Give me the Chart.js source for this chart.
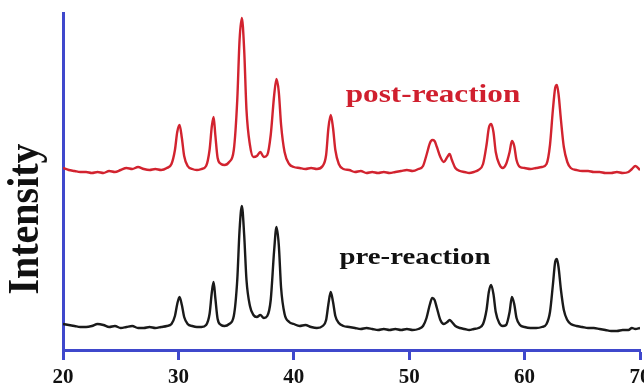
<!DOCTYPE html>
<html>
<head>
<meta charset="utf-8">
<script src="https://cdn.jsdelivr.net/npm/chart.js@4"></script>
<style>
  html, body { margin: 0; padding: 0; background: #fff; }
  #xrdChart { display: block; }
</style>
</head>
<body>
<canvas id="xrdChart" width="644" height="384"></canvas>
<script>
// 2-theta positions (deg), shared by both patterns
const twoTheta = [
  20, 20.5, 21, 21.5, 22, 22.5, 23, 23.5, 24, 24.5, 25, 25.5, 26, 26.5, 27, 27.5, 28, 28.5, 29,
  29.4, 29.7, 29.9, 30.1, 30.3, 30.5, 30.8, 31.2, 31.6, 32, 32.4, 32.7, 32.9, 33.05, 33.2, 33.4, 33.7, 34, 34.4, 34.8,
  35.1, 35.3, 35.5, 35.7, 35.9, 36.2, 36.5, 36.8, 37.1, 37.4, 37.7, 38.0, 38.3, 38.5, 38.7, 38.9, 39.2, 39.6,
  40, 40.5, 41, 41.5, 42, 42.5, 42.8, 43.0, 43.2, 43.4, 43.6, 43.9, 44.3, 44.8,
  45.3, 45.8, 46.3, 46.8, 47.3, 47.8, 48.3, 48.8, 49.3, 49.8, 50.3, 50.8,
  51.2, 51.5, 51.8, 52.0, 52.2, 52.4, 52.7, 53.0, 53.3, 53.5, 53.7, 54.0, 54.4, 54.8, 55.2, 55.6, 56.0,
  56.4, 56.7, 56.9, 57.1, 57.3, 57.5, 57.8, 58.1, 58.4, 58.7, 58.9, 59.1, 59.3, 59.6, 60.0, 60.5, 61.0, 61.5,
  61.9, 62.2, 62.45, 62.65, 62.8, 62.95, 63.15, 63.4, 63.7, 64.0, 64.5,
  65, 65.5, 66, 66.5, 67, 67.5, 68, 68.5, 69, 69.3, 69.6, 70,
];

// intensity (a.u.), pre-reaction pattern
const preReaction = [
  26, 25, 24, 23, 23, 24, 26, 25, 23, 24, 22, 23, 24, 22, 22, 23, 22, 23, 24,
  26, 34, 46, 53, 45, 33, 26, 24, 23, 23, 25, 36, 58, 68, 52, 31, 25, 24, 26, 34,
  70, 120, 144, 115, 70, 44, 35, 33, 35, 32, 34, 50, 100, 123, 105, 62, 36, 28,
  26, 24, 25, 23, 22, 24, 30, 46, 58, 48, 34, 27, 24, 23,
  22, 21, 22, 21, 20, 21, 20, 21, 20, 21, 20, 21,
  24, 32, 46, 52, 50, 42, 30, 26, 28, 30, 28, 24, 22, 21, 20, 21, 22,
  26, 40, 58, 65, 56, 38, 27, 24, 25, 38, 53, 46, 32, 25, 23, 22, 22, 23,
  26, 38, 65, 88, 91, 82, 60, 40, 30, 26, 24,
  23, 22, 22, 21, 20, 19, 19, 20, 20, 22, 21, 22,
];

// intensity (a.u.), post-reaction pattern (stacked above)
const postReaction = [
  182, 180, 179, 178, 178, 177, 178, 177, 179, 178, 180, 182, 181, 183, 181, 180, 181, 180, 182,
  186, 200, 218, 225, 212, 194, 184, 181, 180, 181, 184, 200, 224, 233, 215, 192, 186, 185, 188, 200,
  250, 310, 332, 300, 240, 205, 193, 194, 198, 193, 195, 215, 255, 271, 258, 225, 198, 186,
  183, 182, 181, 182, 181, 184, 195, 222, 235, 222, 200, 186, 181, 180,
  178, 179, 177, 178, 177, 178, 177, 178, 179, 180, 179, 181,
  184, 195, 207, 210, 209, 203, 193, 188, 193, 196, 190, 182, 179, 178, 177, 178, 180,
  186, 205, 222, 226, 218, 198, 186, 182, 186, 198, 209, 204, 190, 183, 182, 181, 182, 183,
  186, 205, 240, 262, 265, 255, 230, 203, 188, 182, 180,
  179, 179, 178, 178, 177, 177, 178, 177, 178, 181, 184, 180,
];

const axisBlue = "#3f48cc";
const serif = "'Liberation Serif', 'Times New Roman', serif";

const toPoints = (ys) => twoTheta.map((x, i) => ({ x: x, y: ys[i] }));

// text labels drawn on top of the plot
const labelPlugin = {
  id: "xrdLabels",
  afterDraw(chart) {
    const ctx = chart.ctx;
    ctx.save();
    ctx.textAlign = "center";
    ctx.textBaseline = "alphabetic";

    ctx.fillStyle = "#d01f2e";
    ctx.font = "bold 26px " + serif;
    ctx.save();
    ctx.translate(433, 102);
    ctx.scale(1.2, 1);
    ctx.fillText("post-reaction", 0, 0);
    ctx.restore();

    ctx.fillStyle = "#111";
    ctx.font = "bold 24px " + serif;
    ctx.save();
    ctx.translate(415, 264);
    ctx.scale(1.2, 1);
    ctx.fillText("pre-reaction", 0, 0);
    ctx.restore();

    ctx.font = "bold 40px " + serif;
    ctx.translate(38, 219);
    ctx.rotate(-Math.PI / 2);
    ctx.scale(1, 1.1);
    ctx.fillText("Intensity", 0, 0);
    ctx.restore();
  },
};

const xrdChart = new Chart(document.getElementById("xrdChart"), {
  type: "line",
  data: {
    datasets: [
      {
        label: "post-reaction",
        data: toPoints(postReaction),
        borderColor: "#d2232f",
        borderWidth: 2.4,
        pointRadius: 0,
        cubicInterpolationMode: "monotone",
      },
      {
        label: "pre-reaction",
        data: toPoints(preReaction),
        borderColor: "#1a1a1a",
        borderWidth: 2.4,
        pointRadius: 0,
        cubicInterpolationMode: "monotone",
      },
    ],
  },
  options: {
    responsive: false,
    animation: false,
    layout: { padding: { top: 13, right: 4, left: 0, bottom: 0 } },
    plugins: {
      legend: { display: false },
      tooltip: { enabled: false },
    },
    scales: {
      x: {
        type: "linear",
        min: 20,
        max: 70,
        afterFit(scale) {
          scale.height = 34;
          scale.paddingLeft = 0;
          scale.paddingRight = 0;
        },
        ticks: {
          stepSize: 10,
          padding: 5,
          color: "#111",
          font: { family: serif, size: 21, weight: "bold" },
        },
        grid: {
          drawOnChartArea: false,
          drawTicks: true,
          tickLength: 10,
          tickWidth: 3,
          tickColor: axisBlue,
        },
        border: { color: axisBlue, width: 3 },
      },
      y: {
        min: 0,
        max: 337,
        afterFit(scale) {
          scale.width = 63;
        },
        ticks: { display: false },
        grid: { display: false },
        border: { color: axisBlue, width: 3 },
      },
    },
  },
  plugins: [labelPlugin],
});
</script>
</body>
</html>
